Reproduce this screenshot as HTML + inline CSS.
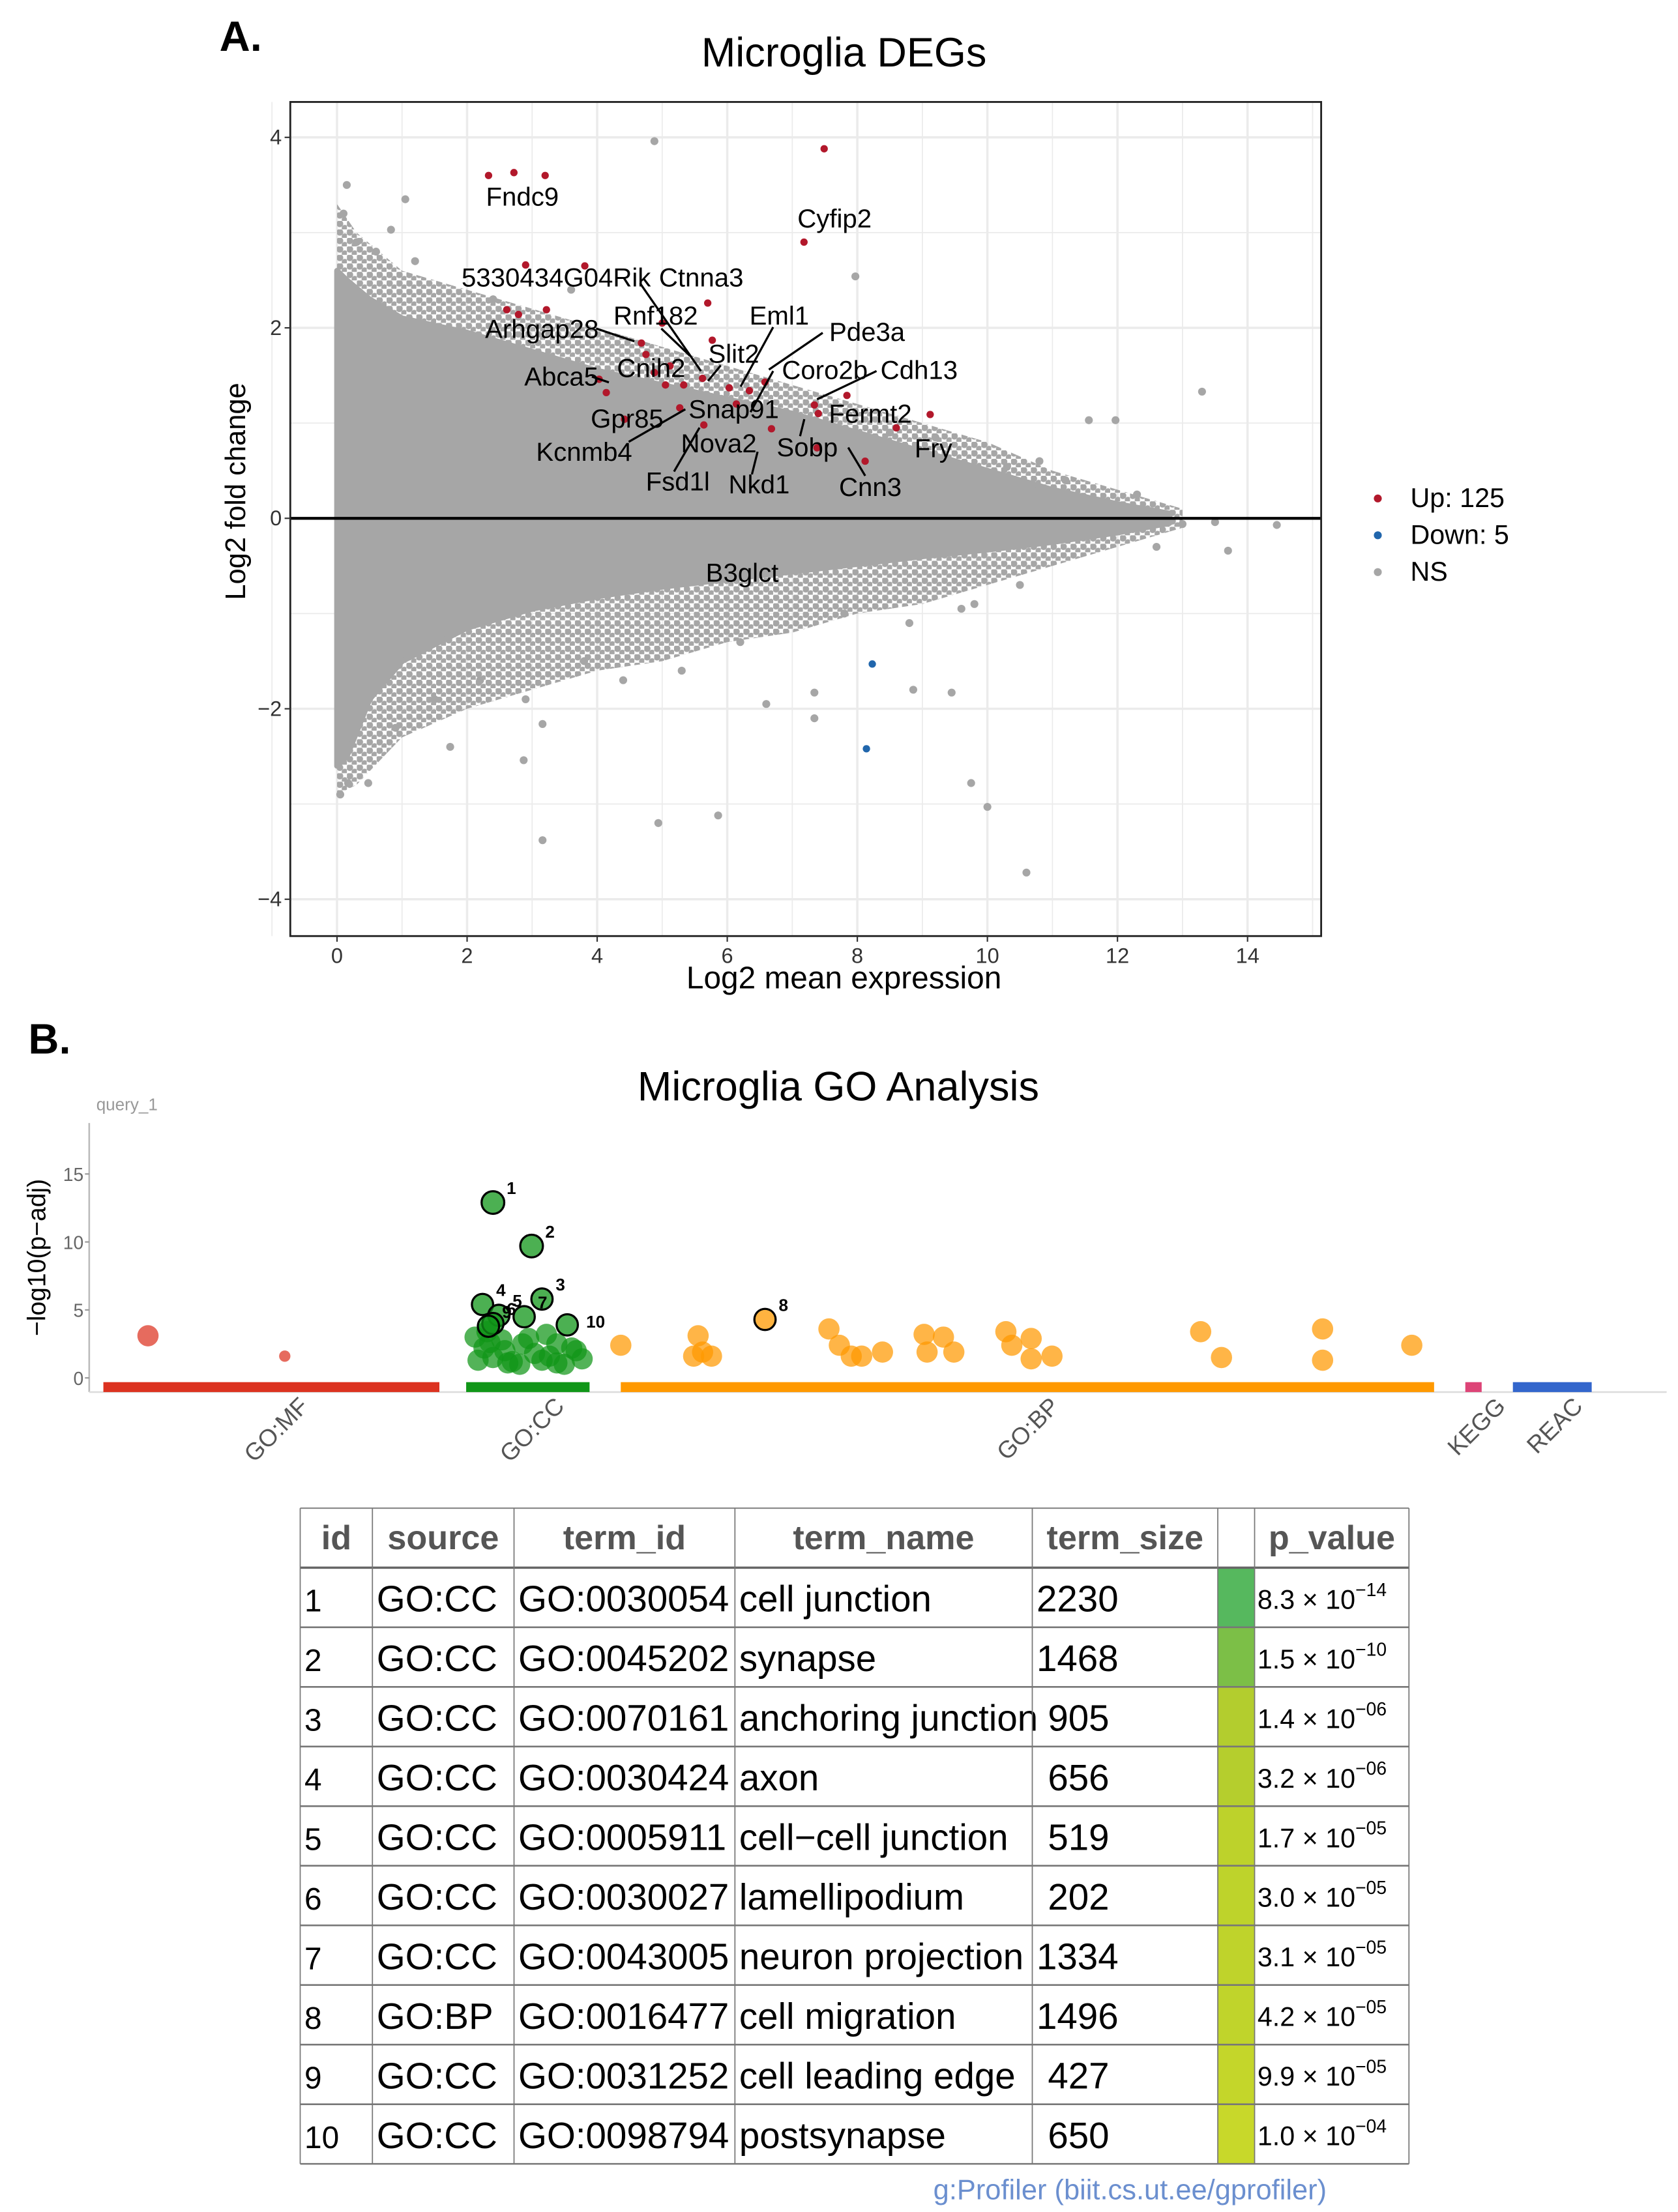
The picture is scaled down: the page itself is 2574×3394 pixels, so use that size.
<!DOCTYPE html>
<html><head><meta charset="utf-8"><style>
html,body{margin:0;padding:0;background:#fff;}
svg{display:block;font-family:"Liberation Sans",Arial,sans-serif;}
</style></head><body>
<svg id="fig" width="2574" height="3394" viewBox="0 0 1185 1562" preserveAspectRatio="none" xmlns="http://www.w3.org/2000/svg">
<defs>
<pattern id="dots" width="7" height="6" patternUnits="userSpaceOnUse">
<circle cx="2" cy="2" r="2.4" fill="#a6a6a6"/><circle cx="5.5" cy="5" r="2.2" fill="#a6a6a6"/>
</pattern>
</defs>
<rect width="1185" height="1562" fill="#fff"/>
<g id="panelA">
  <text x="155" y="36" font-size="30" font-weight="bold">A.</text>
  <text x="596" y="47" font-size="29" text-anchor="middle">Microglia DEGs</text>
  <g id="maGrid"></g>
  <g id="maCloud"></g>
  <g id="maPts"></g>
  <g id="maLabels"></g>
  <rect x="205" y="72" width="728" height="589" fill="none" stroke="#222" stroke-width="1.3"/>
  <g id="maAxes"></g>
  <text x="596" y="698" font-size="22" text-anchor="middle">Log2 mean expression</text>
  <text transform="translate(173,347) rotate(-90)" font-size="20" text-anchor="middle">Log2 fold change</text>
  <g>
    <circle cx="973" cy="352" r="2.8" fill="#b2182b"/>
    <text x="996" y="358" font-size="19">Up: 125</text>
    <circle cx="973" cy="378" r="2.8" fill="#2166ac"/>
    <text x="996" y="384" font-size="19">Down: 5</text>
    <circle cx="973" cy="404" r="2.8" fill="#a6a6a6"/>
    <text x="996" y="410" font-size="19">NS</text>
  </g>
</g>
<g id="panelB">
  <text x="20" y="744" font-size="30" font-weight="bold">B.</text>
  <text x="592" y="777" font-size="29" text-anchor="middle">Microglia GO Analysis</text>
  <text x="68" y="784" font-size="12" fill="#999">query_1</text>
  <text transform="translate(32,888) rotate(-90)" font-size="18" text-anchor="middle">−log10(p−adj)</text>
  <g id="goAxes"></g>
  <g id="goPts"></g>
</g>
<g id="table"></g>
<text x="798" y="1553" font-size="20" fill="#6b8fcf" text-anchor="middle">g:Profiler (biit.cs.ut.ee/gprofiler)</text>
</svg>
<script>
// ---------- MA plot data ----------
const xTicks = [0,2,4,6,8,10,12,14];
const yTicks = [-4,-2,0,2,4];
const cloudX     = [0, 0.15, 0.5, 1, 2, 3, 4, 5, 6, 7, 8, 9, 10, 11, 12, 12.8];
const cloudUpper = [2.6, 2.5, 2.3, 2.1, 1.95, 1.75, 1.55, 1.4, 1.25, 1.1, 0.9, 0.7, 0.5, 0.3, 0.15, 0.05];
const cloudLower = [-2.6, -2.5, -1.9, -1.5, -1.15, -0.95, -0.82, -0.72, -0.64, -0.56, -0.48, -0.4, -0.33, -0.25, -0.15, -0.05];
const haloX     = [0, 0.3, 1, 2, 3, 4, 5, 6, 7, 8, 9, 10, 11, 12, 13];
const haloUpper = [3.3, 3.0, 2.6, 2.4, 2.2, 2.0, 1.8, 1.6, 1.4, 1.2, 1.0, 0.8, 0.5, 0.3, 0.1];
const haloLower = [-2.9, -2.8, -2.3, -2.0, -1.8, -1.6, -1.5, -1.3, -1.2, -1.0, -0.9, -0.7, -0.5, -0.3, -0.1];
const nsX = [4.88,0.15,1.05,0.83,7.97,13.3,11.56,11.97,10.3,13.5,13.7,14.45,13.0,9.45,8.86,9.75,10.0,10.6,4.94,5.86,3.16,7.34,6.6,7.34,0.17,0.48,2.87,3.16,1.74,0.1,0.3,0.6,1.2,2.4,3.6,1.5,2.2,0.9,8.5,9.2,10.8,11.2,12.3,12.6,9.8,10.5,6.2,5.3,4.4,3.8,2.9,7.8,8.8,9.6,0.05,0.25];
const nsY = [3.96,3.5,3.35,3.03,2.54,1.33,1.03,1.03,0.54,-0.04,-0.34,-0.07,-0.06,-1.83,-1.8,-2.78,-3.03,-3.72,-3.2,-3.12,-3.38,-2.1,-1.95,-1.83,-2.78,-2.78,-2.54,-2.16,-2.4,3.2,2.9,2.8,2.7,2.3,2.4,-1.9,-1.7,-2.2,0.9,0.85,0.6,0.4,0.25,-0.3,-0.9,-0.7,-1.3,-1.6,-1.7,-1.5,-1.9,-1.0,-1.1,-0.95,-2.9,-2.2];
const upX = [2.33,2.72,3.2,7.49,7.18,2.9,3.81,5.7,2.61,2.79,3.22,4.68,5.0,5.77,4.88,5.12,5.05,5.33,5.62,6.14,6.03,6.58,7.34,7.4,7.84,8.6,9.12,8.12,7.38,4.03,4.14,5.27,5.64,6.68,4.42,6.34,4.75];
const upY = [3.6,3.63,3.6,3.88,2.9,2.66,2.65,2.26,2.19,2.14,2.19,1.84,2.05,1.87,1.53,1.6,1.4,1.4,1.47,1.2,1.37,1.43,1.19,1.1,1.29,0.95,1.09,0.6,0.74,1.46,1.32,1.16,0.98,0.94,1.04,1.34,1.72];
const downX = [8.23,8.14];
const downY = [-1.53,-2.42];
const geneNames = ["Fndc9","Cyfip2","5330434G04Rik","Ctnna3","Rnf182","Eml1","Pde3a","Arhgap28","Slit2","Cnih2","Coro2b","Cdh13","Abca5","Gpr85","Snap91","Fermt2","Kcnmb4","Nova2","Sobp","Fry","Fsd1l","Nkd1","Cnn3","B3glct"];
const geneLX = [2.85,7.65,3.37,5.6,4.9,6.8,8.15,3.15,6.1,4.83,7.5,8.95,3.45,4.46,6.1,8.2,3.8,5.87,7.23,9.17,5.24,6.49,8.2,6.23];
const geneLY = [3.38,3.15,2.53,2.53,2.13,2.13,1.96,1.99,1.73,1.58,1.56,1.56,1.49,1.05,1.15,1.1,0.7,0.79,0.75,0.74,0.39,0.36,0.33,-0.57];

const NS='http://www.w3.org/2000/svg';
function mk(tag, attrs, parent){const e=document.createElementNS(NS,tag);for(const k in attrs)e.setAttribute(k,attrs[k]);parent.appendChild(e);return e;}
const xs = v => 238 + v*45.93;
const ys = v => 366 - v*67.25;

const grid=document.getElementById('maGrid');
mk('rect',{x:205,y:72,width:728,height:589,fill:'#fff'},grid);
for(let v=-1;v<=15;v++){const l=mk('line',{x1:xs(v),x2:xs(v),y1:72,y2:661,stroke:'#ebebeb','stroke-width':v%2===0?1.6:0.8},grid);

}
for(let v=-4;v<=4;v++){const l=mk('line',{y1:ys(v),y2:ys(v),x1:205,x2:933,stroke:'#ebebeb','stroke-width':v%2===0?1.6:0.8},grid);

}

function envPath(X,U,L){let d='M'+X.map((x,i)=>xs(x)+','+ys(U[i])).join('L');
for(let i=X.length-1;i>=0;i--) d+='L'+xs(X[i])+','+ys(L[i]);return d+'Z';}
const cloudG=document.getElementById('maCloud');
const halo=mk('path',{d:envPath(haloX,haloUpper,haloLower),fill:'url(#dots)',stroke:'none'},cloudG);


const cloud=mk('path',{d:envPath(cloudX,cloudUpper,cloudLower),fill:'#a6a6a6',stroke:'#a6a6a6','stroke-width':4,'stroke-linejoin':'round'},cloudG);



const pts=document.getElementById('maPts');
nsX.forEach((x,i)=>{const c=mk('circle',{cx:xs(x),cy:ys(nsY[i]),r:2.8,fill:'#a6a6a6'},pts);

});
upX.forEach((x,i)=>{const c=mk('circle',{cx:xs(x),cy:ys(upY[i]),r:2.6,fill:'#b2182b'},pts);

});
downX.forEach((x,i)=>{const c=mk('circle',{cx:xs(x),cy:ys(downY[i]),r:2.6,fill:'#2166ac'},pts);

});
const zero=mk('line',{x1:205,x2:933,y1:ys(0),y2:ys(0),stroke:'#000','stroke-width':2},pts);



const labG=document.getElementById('maLabels');
const leaders=[[452,200,495,262],[467,232,487,251],[421,232,448,241],[418,266,430,270],[509,258,500,269],[546,231,523,273],[581,235,543,261],[546,262,530,291],[619,262,577,282],[444,312,484,289],[476,333,494,302],[531,335,535,319],[565,308,568,296],[611,336,599,316]];
leaders.forEach(a=>{const l=mk('line',{x1:a[0],y1:a[1],x2:a[2],y2:a[3],stroke:'#000','stroke-width':1.5},labG);

});
geneNames.forEach((n,i)=>{const t=mk('text',{x:xs(geneLX[i]),y:ys(geneLY[i])+6.5,'font-size':18.5,'text-anchor':'middle'},labG);t.textContent=n;

});

const ax=document.getElementById('maAxes');
xTicks.forEach(v=>{mk('line',{x1:xs(v),x2:xs(v),y1:661,y2:665,stroke:'#333'},ax);
const t=mk('text',{x:xs(v),y:680,'font-size':15,'text-anchor':'middle',fill:'#333'},ax);t.textContent=v;

});
yTicks.forEach(v=>{mk('line',{x1:201,x2:205,y1:ys(v),y2:ys(v),stroke:'#333'},ax);
const t=mk('text',{x:199,y:ys(v)+5,'font-size':15,'text-anchor':'end',fill:'#333'},ax);t.textContent=v<0?'−'+(-v):v;

});

// ---------- GO Manhattan data ----------
const goTicks=[0,5,10,15];
const sources=["GO:MF","GO:CC","GO:BP","KEGG","REAC"];
const srcStart=[0,244,348,916,948];
const srcEnd=[226,327,895,927,1001];
const srcColor=["#dc3220","#109618","#ff9900","#dd4477","#3366cc"];
const srcLabelPos=[116,288,621,921,973];
const goPos=[30,122,262,288,295,255,266,262,283,259,312,250,256,262,268,275,282,290,298,305,252,260,270,280,295,305,310,318,322,258,272,286,300,315,348,400,403,397,409,445,488,495,503,510,524,552,554,565,572,607,611,624,624,638,738,752,820,820,880];
const goVal=[3.1,1.6,12.9,9.7,5.8,5.4,4.6,4.0,4.5,3.8,3.9,3.0,2.2,1.5,2.8,1.2,2.5,1.8,3.2,1.1,1.3,2.6,2.0,1.0,1.3,2.5,1.0,2.0,1.4,3.4,1.1,2.9,1.6,2.2,2.4,3.1,1.9,1.6,1.6,4.3,3.6,2.4,1.6,1.6,1.9,3.2,1.9,3.0,1.9,3.4,2.4,2.9,1.4,1.6,3.4,1.5,3.6,1.3,2.4];
const goSrc=[0,0,1,1,1,1,1,1,1,1,1,1,1,1,1,1,1,1,1,1,1,1,1,1,1,1,1,1,1,1,1,1,1,1,2,2,2,2,2,2,2,2,2,2,2,2,2,2,2,2,2,2,2,2,2,2,2,2,2];
const goLabel=["","", "1","2","3","4","5","6","7","9","10","","","","","","","","","","","","","","","","","","","","","","","","","","","","","8","","","","","","","","","","","","","","","","","","",""];
const gx = p => 73 + p*1.05;
const gy = v => 973 - v*9.6;

const ga=document.getElementById('goAxes');
mk('line',{x1:63,x2:63,y1:793,y2:983,stroke:'#bbb','stroke-width':1.2},ga);
mk('line',{x1:63,x2:1177,y1:983,y2:983,stroke:'#ddd','stroke-width':1.2},ga);
goTicks.forEach(v=>{mk('line',{x1:60,x2:63,y1:gy(v),y2:gy(v),stroke:'#999'},ga);
const t=mk('text',{x:59,y:gy(v)+5,'font-size':13,'text-anchor':'end',fill:'#666'},ga);t.textContent=v;

});
sources.forEach((s,i)=>{const r=mk('rect',{x:gx(srcStart[i]),y:976,width:gx(srcEnd[i])-gx(srcStart[i]),height:7,fill:srcColor[i]},ga);


const lx=gx(srcLabelPos[i])+24;
const t=mk('text',{transform:'translate('+lx+',994) rotate(-45)','font-size':17,'text-anchor':'end',fill:'#555'},ga);t.textContent=s;

});

const gp=document.getElementById('goPts');
const order=goVal.map((v,i)=>i).sort((a,b)=>(goLabel[a]?1:0)-(goLabel[b]?1:0));
order.forEach(i=>{const lab=goLabel[i];const v=goVal[i];
const r=goSrc[i]===0&&v<2?4:(v>9?8:7.5);
const c=mk('circle',{cx:gx(goPos[i]),cy:gy(v),r:r,fill:srcColor[goSrc[i]],'fill-opacity':lab?0.75:0.72,stroke:lab?'#000':'none','stroke-width':1.5},gp);


if(lab){const t=mk('text',{x:gx(goPos[i])+(lab==='10'?20:13),y:gy(v)-(lab==='10'?-2:6),'font-size':12,'font-weight':'bold','text-anchor':'middle'},gp);t.textContent=lab;

}});

// ---------- Table ----------
const tIds=["1","2","3","4","5","6","7","8","9","10"];
const tSrc=["GO:CC","GO:CC","GO:CC","GO:CC","GO:CC","GO:CC","GO:CC","GO:BP","GO:CC","GO:CC"];
const tTerm=["GO:0030054","GO:0045202","GO:0070161","GO:0030424","GO:0005911","GO:0030027","GO:0043005","GO:0016477","GO:0031252","GO:0098794"];
const tName=["cell junction","synapse","anchoring junction","axon","cell−cell junction","lamellipodium","neuron projection","cell migration","cell leading edge","postsynapse"];
const tSize=["2230","1468","905","656","519","202","1334","1496","427","650"];
const tMant=["8.3","1.5","1.4","3.2","1.7","3.0","3.1","4.2","9.9","1.0"];
const tExp=["−14","−10","−06","−06","−05","−05","−05","−05","−05","−04"];
const tColor=["#56b85e","#7cbf47","#b3cd2e","#b5ce2d","#bdd22b","#bed32b","#bfd32b","#c0d42b","#c4d62a","#c8d82a"];
const tbl=document.getElementById('table');
const cols=[212,263,363,519,729,860,886,995];
const top0=1065, hh=42, rh=42.1;
mk('rect',{x:212,y:top0,width:783,height:hh+10*rh,fill:'#fff'},tbl);
const heads=["id","source","term_id","term_name","term_size","","p_value"];
heads.forEach((h,j)=>{if(!h)return;const t=mk('text',{x:(cols[j]+cols[j+1])/2,y:top0+29,'font-size':24,'font-weight':'bold',fill:'#555','text-anchor':'middle'},tbl);t.textContent=h;

});
tIds.forEach((id,i)=>{const y0=top0+hh+i*rh;const by=y0+31;
const cc=mk('rect',{x:860,y:y0,width:26,height:rh,fill:tColor[i]},tbl);


const vals=[id,tSrc[i],tTerm[i],tName[i],tSize[i]];
const xo=[3,3,3,3,(tSize[i].length===4?3:11)];
vals.forEach((v,j)=>{const fs=j===0?22:26;const t=mk('text',{x:cols[j]+xo[j],y:by,'font-size':fs},tbl);t.textContent=v;

});
const p=mk('text',{x:888,y:by-2,'font-size':19},tbl);


const a=document.createElementNS(NS,'tspan');a.textContent=tMant[i]+' × 10';p.appendChild(a);
const b=document.createElementNS(NS,'tspan');b.setAttribute('dy','-9');b.setAttribute('font-size','13');b.textContent=tExp[i];p.appendChild(b);
});
mk('line',{x1:212,x2:995,y1:top0,y2:top0,stroke:'#888','stroke-width':1},tbl);
for(let i=0;i<=10;i++){const y=top0+hh+i*rh;mk('line',{x1:212,x2:995,y1:y,y2:y,stroke:i===0?'#666':'#777','stroke-width':i===0?1.6:1.2},tbl);}
cols.forEach(x=>mk('line',{x1:x,x2:x,y1:top0,y2:top0+hh+10*rh,stroke:'#777','stroke-width':0.8},tbl));
</script>
</body></html>
